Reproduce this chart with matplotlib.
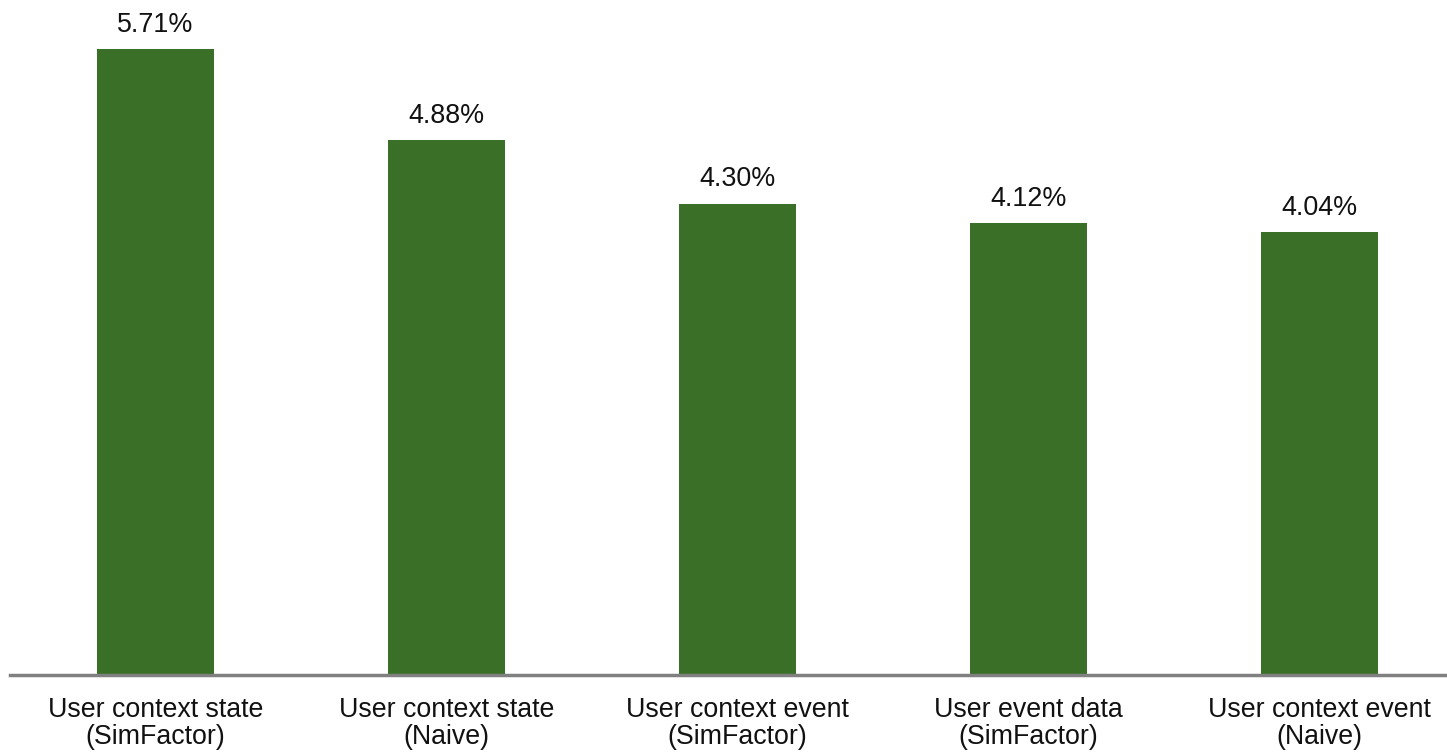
import matplotlib
matplotlib.use("Agg")
import matplotlib.pyplot as plt

categories = [
    "User context state\n(SimFactor)",
    "User context state\n(Naive)",
    "User context event\n(SimFactor)",
    "User event data\n(SimFactor)",
    "User context event\n(Naive)",
]
values = [5.71, 4.88, 4.30, 4.12, 4.04]

plt.rcParams["font.family"] = ["Liberation Sans", "DejaVu Sans"]

W, H = 1447, 752
fig = plt.figure(figsize=(W / 100, H / 100), dpi=100)
# axes spans the baseline from x=10 px, slightly past the right edge
left_px, right_px = 10, 1465
base_px = 77
top_px = 752
ax = fig.add_axes([left_px / W, base_px / H, (right_px - left_px) / W, (top_px - base_px) / H])

x = range(len(values))
bars = ax.bar(x, values, width=0.4, color="#3a6f28")
ax.set_xlim(-0.5, len(values) - 0.5)
ax.set_ylim(0, 6.157)

for xi, v in zip(x, values):
    ax.annotate(f"{v:.2f}%", (xi, v), xytext=(0, 8), textcoords="offset points",
                ha="center", va="bottom", fontsize=19.4, color="#111111")

ax.set_xticks(list(x))
ax.set_xticklabels(categories, fontsize=19.3, linespacing=1.05, color="#111111")
ax.tick_params(axis="x", length=0, pad=15.5)
ax.set_yticks([])
for side in ("top", "left", "right"):
    ax.spines[side].set_visible(False)
ax.spines["bottom"].set_color("#808080")
ax.spines["bottom"].set_linewidth(2.5)

fig.savefig("out.png", dpi=100)
